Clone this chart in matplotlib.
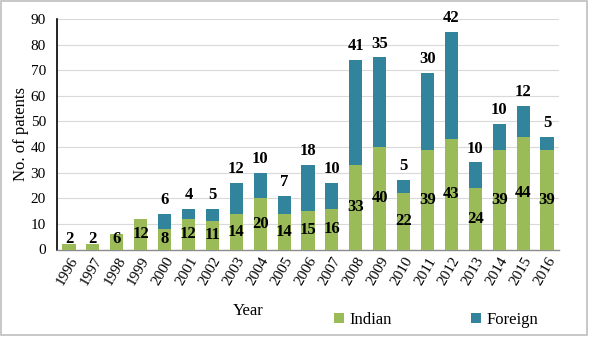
import numpy as np
import matplotlib.pyplot as plt
from matplotlib.patches import Rectangle

plt.rcParams['font.family'] = ['Liberation Serif', 'DejaVu Serif']

# Datos
years = ['1996', '1997', '1998', '1999', '2000', '2001', '2002', '2003', '2004', '2005', '2006',
         '2007', '2008', '2009', '2010', '2011', '2012', '2013', '2014', '2015', '2016']
indian = [2, 2, 6, 12, 8, 12, 11, 14, 20, 14, 15, 16, 33, 40, 22, 39, 43, 24, 39, 44, 39]
foreign = [0, 0, 0, 0, 6, 4, 5, 12, 10, 7, 18, 10, 41, 35, 5, 30, 42, 10, 10, 12, 5]

c_ind = '#9BBB59'
c_for = '#31849B'

fig = plt.figure(figsize=(5.89, 3.37), dpi=100)
ax = fig.add_axes([57 / 589, 1 - 249.5 / 337, 502 / 589, 230.5 / 337])

x = np.arange(len(years))
w = 0.55
ax.bar(x, indian, width=w, color=c_ind, label='Indian', zorder=3)
ax.bar(x, foreign, width=w, bottom=indian, color=c_for, label='Foreign', zorder=3)

# Etiquetas
for i in range(len(years)):
    ax.text(x[i], max(indian[i] / 2, 4.2), str(indian[i]), ha='center', va='center',
            fontsize=12, fontweight='bold', zorder=4)
    if foreign[i] > 0:
        ax.annotate(str(foreign[i]), (x[i], indian[i] + foreign[i]), xytext=(0, 10),
                    textcoords='offset points', ha='center', va='center',
                    fontsize=12, fontweight='bold', zorder=4)

ax.set_xlim(-0.5, len(years) - 0.5)
ax.set_ylim(0, 90)
ax.set_yticks(np.arange(0, 91, 10))
ax.set_xticks(x)
ax.set_xticklabels(years, rotation=60, ha='right', rotation_mode='anchor', fontsize=11)
ax.tick_params(axis='y', labelsize=11, length=0, pad=8)
ax.tick_params(axis='x', length=0, pad=4)
ax.grid(axis='y', color='#D9D9D9', linewidth=0.8, zorder=0)

for s in ['top', 'right']:
    ax.spines[s].set_visible(False)
ax.spines['left'].set_color('black')
ax.spines['left'].set_linewidth(1.2)
ax.spines['bottom'].set_color('#8C8C8C')
ax.spines['bottom'].set_linewidth(1.0)

ax.set_ylabel('No. of patents', fontsize=12, labelpad=1)
fig.text(248 / 589, 1 - 311 / 337, 'Year', ha='center', va='center', fontsize=12)

fig.legend(loc='center', bbox_to_anchor=(436 / 589, 1 - 320 / 337), ncol=2, frameon=False,
           prop={'family': 'Liberation Serif', 'size': 12},
           handlelength=0.6, handleheight=0.6, handletextpad=0.3, columnspacing=4.8)

# Marco exterior
fig.patches.append(Rectangle((0.002, 0.006), 0.994, 0.99, transform=fig.transFigure,
                             fill=False, edgecolor='#BFBFBF', linewidth=1.2))

plt.savefig('out.png', dpi=100)
